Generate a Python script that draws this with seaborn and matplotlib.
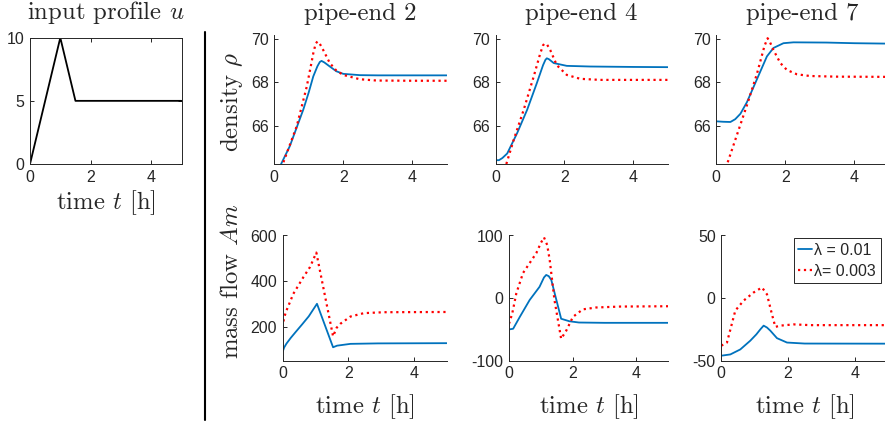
import matplotlib
matplotlib.use("Agg")
import matplotlib.pyplot as plt
from matplotlib.lines import Line2D
import seaborn as sns

# ---------------- data ----------------
t_u = [0, 1, 1.5, 5]
u_vals = [0, 10, 5, 5]

# density, pipe-end 2
t_rho2_a = [0.0, 0.19, 0.45, 0.84, 1.0, 1.13, 1.25, 1.32, 1.37, 1.45, 1.61, 1.8, 2.0, 2.48, 3.0, 4.0, 5.0]
rho2_a = [63.6, 64.2, 65.05, 66.74, 67.55, 68.28, 68.75, 68.95, 69.0, 68.93, 68.74, 68.52, 68.4, 68.34, 68.33, 68.33, 68.33]
t_rho2_b = [0.0, 0.24, 0.65, 0.94, 1.07, 1.13, 1.2, 1.25, 1.3, 1.42, 1.61, 1.8, 2.0, 2.48, 2.97, 4.0, 5.0]
rho2_b = [63.3, 64.2, 65.97, 67.8, 68.85, 69.35, 69.8, 69.9, 69.85, 69.5, 68.9, 68.55, 68.35, 68.15, 68.09, 68.08, 68.08]

# density, pipe-end 4
t_rho4_a = [0, 0.1, 0.2, 0.34, 0.63, 0.92, 1.2, 1.38, 1.45, 1.49, 1.55, 1.69, 2.07, 2.75, 4.0, 5.0]
rho4_a = [64.4, 64.4, 64.5, 64.71, 65.66, 66.74, 67.97, 68.8, 69.05, 69.12, 69.08, 68.9, 68.77, 68.74, 68.72, 68.71]
t_rho4_b = [0.1, 0.31, 0.53, 0.82, 1.11, 1.3, 1.38, 1.42, 1.5, 1.59, 1.78, 2.07, 2.46, 3.04, 4.0, 5.0]
rho4_b = [63.8, 64.2, 65.35, 66.74, 68.28, 69.35, 69.72, 69.8, 69.75, 69.5, 68.8, 68.35, 68.17, 68.12, 68.12, 68.12]

# density, pipe-end 7
t_rho7_a = [0, 0.2, 0.41, 0.55, 0.7, 0.89, 1.18, 1.47, 1.66, 1.95, 2.24, 3.2, 4.0, 5.0]
rho7_a = [66.2, 66.18, 66.17, 66.3, 66.55, 67.09, 68.15, 69.21, 69.6, 69.82, 69.86, 69.85, 69.82, 69.8]
t_rho7_b = [0.2, 0.31, 0.89, 1.18, 1.4, 1.49, 1.55, 1.66, 1.86, 2.05, 2.34, 2.72, 3.5, 5.0]
rho7_b = [63.8, 64.2, 66.95, 68.4, 69.7, 70.05, 69.9, 69.5, 68.9, 68.58, 68.38, 68.3, 68.27, 68.26]

# mass flow, pipe-end 2
t_m2_a = [0, 0.05, 0.12, 0.25, 0.4, 0.6, 0.8, 1.05, 1.54, 1.66, 2.07, 2.9, 5]
m2_a = [87, 108, 125, 150, 176, 210, 245, 300, 109, 116, 124, 126, 127]
t_m2_b = [0, 0.05, 0.12, 0.33, 0.64, 0.84, 1.03, 1.54, 1.65, 1.76, 2.07, 2.48, 3.1, 5]
m2_b = [197, 240, 270, 344, 418, 462, 525, 157, 195, 212, 244, 259, 263, 264]

# mass flow, pipe-end 4
t_m4_a = [0, 0.13, 0.34, 0.65, 0.96, 1.1, 1.17, 1.25, 1.33, 1.49, 1.64, 1.9, 2.2, 3, 5]
m4_a = [-50, -49, -30, -3, 18, 33, 37, 35, 29, -3, -33, -37, -39, -39.5, -39.5]
t_m4_b = [0, 0.1, 0.23, 0.44, 0.65, 0.86, 1.0, 1.1, 1.2, 1.28, 1.43, 1.64, 1.8, 2.01, 2.32, 2.74, 3.5, 5]
m4_b = [-41, -25, 7.5, 40, 56, 72, 88, 97, 85, 61, -3, -65, -52, -30, -18, -15, -13.5, -13]

# mass flow, pipe-end 7
t_m7_a = [0, 0.27, 0.57, 0.87, 1.05, 1.17, 1.27, 1.37, 1.47, 1.67, 1.97, 2.5, 5]
m7_a = [-46, -45, -41, -34, -29, -25, -22, -23.5, -26, -32, -35.5, -36.3, -36.4]
t_m7_b = [0, 0.17, 0.42, 0.67, 0.97, 1.22, 1.37, 1.52, 1.62, 1.77, 2.17, 2.67, 5]
m7_b = [-38, -35.5, -10, -2, 4.5, 8.5, 3, -13, -23, -22, -21, -21.6, -21.6]

titles = ["pipe-end 2", "pipe-end 4", "pipe-end 7"]
legend_labels = ["λ = 0.01", "λ= 0.003"]
x_ticks = [0, 2, 4]
rho_ticks = [66, 68, 70]
m_ticks = [[200, 400, 600], [-100, 0, 100], [-50, 0, 50]]
m_ylims = [(50, 600), (-100, 100), (-50, 50)]

# ---------------- style ----------------
sns.set_theme(style="ticks")
plt.rcParams["font.family"] = ["Liberation Sans", "DejaVu Sans"]
plt.rcParams["mathtext.fontset"] = "cm"

W, H = 885, 423
fig = plt.figure(figsize=(W / 100, H / 100), dpi=100)
SERIF = "cmr10"
AX_C = "#262626"
BLUE = "#0072BD"
RED = "#FF0000"
LFS = 17.8
TFS = 11.5


def add_ax(l, r, t, b):
    return fig.add_axes([l / W, 1 - b / H, (r - l) / W, (b - t) / H])


def style(ax, box=False):
    for s in ["left", "bottom", "top", "right"]:
        ax.spines[s].set_color(AX_C)
        ax.spines[s].set_linewidth(0.7)
    if not box:
        ax.spines["top"].set_visible(False)
        ax.spines["right"].set_visible(False)
    ax.tick_params(direction="in", length=3, width=0.7, color=AX_C,
                   labelcolor=AX_C, labelsize=TFS, pad=4,
                   top=box, right=box)
    ax.set_xlim(0, 5)
    ax.set_xticks(x_ticks)
    ax.set_xticklabels([str(v) for v in x_ticks])


# input panel
ax_u = add_ax(30, 181.5, 37.7, 164)
sns.lineplot(x=t_u, y=u_vals, ax=ax_u, color="black", lw=1.3)
style(ax_u, box=True)
ax_u.set_ylim(0, 10)
ax_u.set_yticks([0, 5, 10])
ax_u.set_yticklabels(["0", "5", "10"])
ax_u.set_title(r"input profile $u$", family=SERIF, fontsize=LFS, y=1.15, pad=0)
ax_u.set_xlabel(r"time $t$ [h]", family=SERIF, fontsize=LFS)
ax_u.xaxis.set_label_coords(0.5, -0.19)
ax_u.set_ylabel("")

# density row
top_pos = [(274.3, 446.7), (495.5, 667.7), (716.3, 888.5)]
rho_data = [(t_rho2_a, rho2_a, t_rho2_b, rho2_b),
            (t_rho4_a, rho4_a, t_rho4_b, rho4_b),
            (t_rho7_a, rho7_a, t_rho7_b, rho7_b)]
for i, ((l, r), (ta, ya, tb, yb)) in enumerate(zip(top_pos, rho_data)):
    ax = add_ax(l, r, 35, 164.5)
    sns.lineplot(x=ta, y=ya, ax=ax, color=BLUE, lw=1.3)
    sns.lineplot(x=tb, y=yb, ax=ax, color=RED, lw=1.6, linestyle=":")
    style(ax)
    ax.set_ylim(64.2, 70.2)
    ax.set_yticks(rho_ticks)
    ax.set_yticklabels([str(v) for v in rho_ticks])
    ax.set_title(titles[i], family=SERIF, fontsize=LFS, y=1.115, pad=0)
    ax.set_xlabel("")
    if i == 0:
        ax.set_ylabel(r"density $\rho$", family=SERIF, fontsize=LFS)
        ax.yaxis.set_label_coords((245 - l) / (r - l), 0.485)
    else:
        ax.set_ylabel("")

# mass flow row
bot_pos = [(282.5, 446.7), (509, 668), (721.3, 888.0)]
m_data = [(t_m2_a, m2_a, t_m2_b, m2_b),
          (t_m4_a, m4_a, t_m4_b, m4_b),
          (t_m7_a, m7_a, t_m7_b, m7_b)]
for i, ((l, r), (ta, ya, tb, yb)) in enumerate(zip(bot_pos, m_data)):
    ax = add_ax(l, r, 235.5, 360.7)
    sns.lineplot(x=ta, y=ya, ax=ax, color=BLUE, lw=1.3,
                 label=legend_labels[0] if i == 2 else None)
    sns.lineplot(x=tb, y=yb, ax=ax, color=RED, lw=1.6, linestyle=":",
                 label=legend_labels[1] if i == 2 else None)
    style(ax)
    ax.set_ylim(*m_ylims[i])
    ax.set_yticks(m_ticks[i])
    ax.set_yticklabels([str(v) for v in m_ticks[i]])
    ax.set_xlabel(r"time $t$ [h]", family=SERIF, fontsize=LFS)
    ax.xaxis.set_label_coords(0.5, -0.255)
    if i == 0:
        ax.set_ylabel(r"mass flow $Am$", family=SERIF, fontsize=LFS)
        ax.yaxis.set_label_coords((243 - l) / (r - l), 0.63)
    else:
        ax.set_ylabel("")
    if i == 2:
        leg = ax.legend(loc="upper right", bbox_to_anchor=(0.958, 0.978),
                        borderaxespad=0, frameon=True, fancybox=False,
                        fontsize=11.5, handlelength=0.85, handletextpad=0.15,
                        borderpad=0.3, labelspacing=0.35)
        leg.get_frame().set_edgecolor(AX_C)
        leg.get_frame().set_linewidth(0.7)
        leg.get_frame().set_alpha(1)
    else:
        lg = ax.get_legend()
        if lg is not None:
            lg.remove()

fig.add_artist(Line2D([205 / W, 205 / W], [1 - 32 / H, 1 - 420 / H],
                      color="black", lw=1.5, transform=fig.transFigure))

fig.savefig("out.png", dpi=100)
